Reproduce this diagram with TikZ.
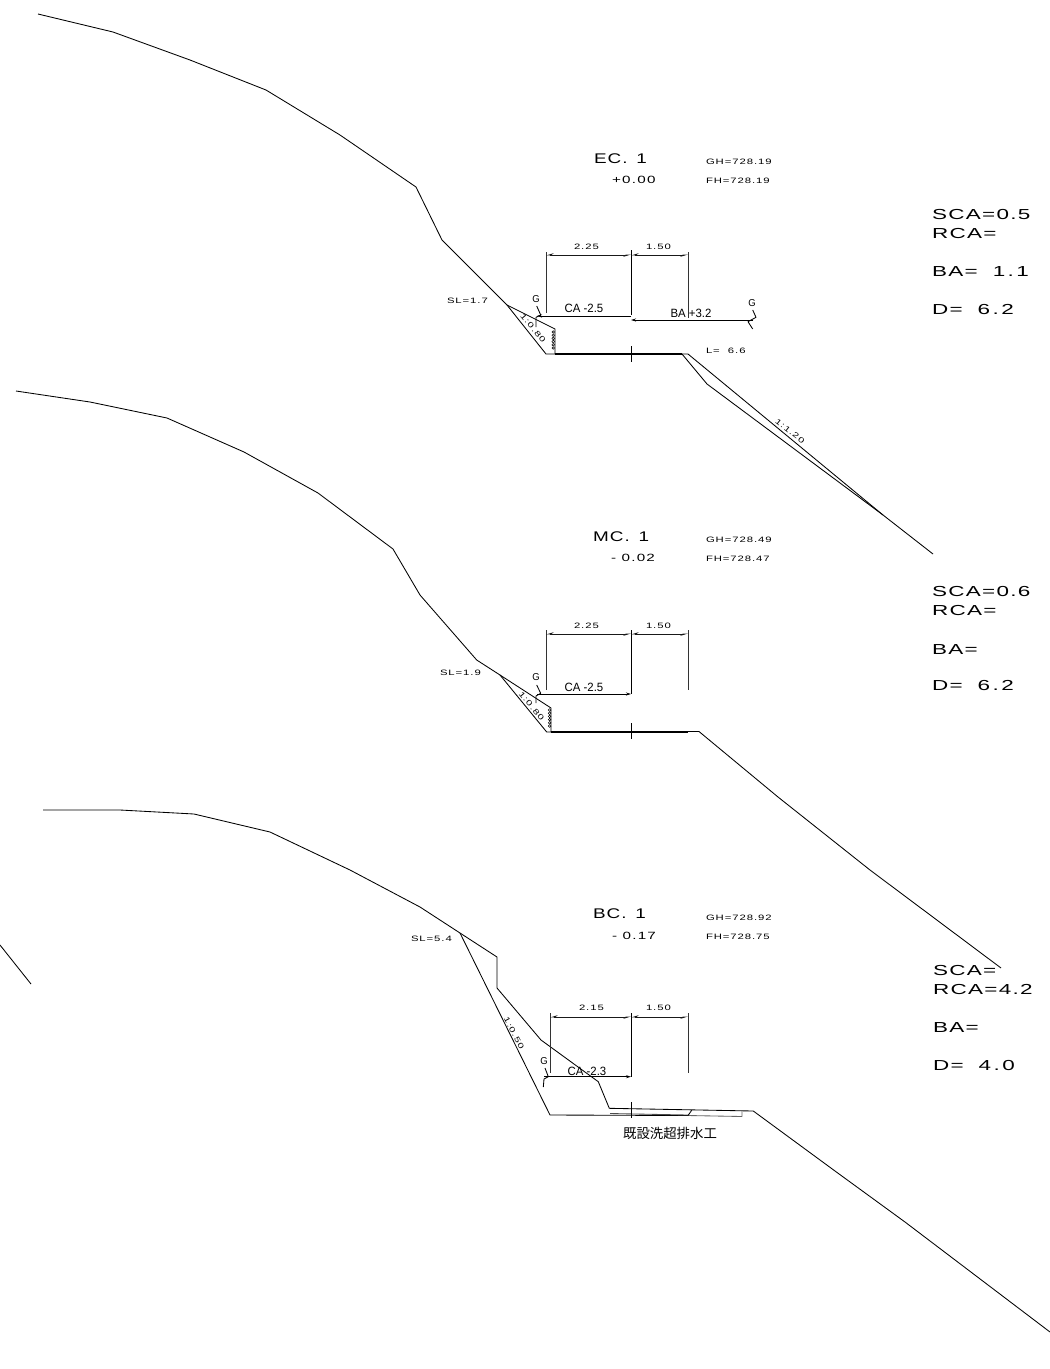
\documentclass[tikz,border=0pt]{standalone}
\usepackage{fontspec}
\setmainfont{Liberation Sans}
\newfontfamily\widefont[FakeStretch=1.35,LetterSpace=8]{Liberation Sans}
\newfontfamily\sidefont[FakeStretch=1.55,LetterSpace=9]{Liberation Sans}
\newfontfamily\tagfont[FakeStretch=1.45,LetterSpace=12]{Liberation Sans}
\newfontfamily\narrowfont[FakeStretch=0.95]{Liberation Sans}
\newfontfamily\cjkfont{Noto Sans CJK JP}
\usetikzlibrary{arrows.meta}
\tikzset{
 x=1pt,y=-1pt,
 line/.style={line width=0.85pt,black,line join=bevel},
 heavy/.style={line width=1.2pt,black},
 witness/.style={line width=0.75pt,black!80},
 stationline/.style={line width=0.95pt,black},
 dimline/.style={line width=0.9pt,black!90,{Stealth[harpoon,swap,length=6pt,width=3.5pt]}-{Stealth[harpoon,swap,length=6pt,width=3.5pt]}},
 grade/.style={line width=1pt,black,-{Stealth[length=5pt,width=3pt]}},
 txt/.style={anchor=base west,inner sep=0pt,outer sep=0pt,black},
 title/.style={txt,font=\widefont\fontsize{14}{14}\selectfont},
 side/.style={txt,font=\sidefont\fontsize{14.5}{14}\selectfont},
 chain/.style={txt,font=\tagfont\fontsize{10.5}{10}\selectfont},
 tag/.style={txt,font=\tagfont\fontsize{7.8}{8}\selectfont},
 slopetag/.style={inner sep=0pt,black,font=\tagfont\fontsize{7.5}{8}\selectfont},
 gtag/.style={inner sep=0pt,black,font=\narrowfont\fontsize{10}{10}\selectfont},
 gradetag/.style={inner sep=0pt,black,font=\narrowfont\fontsize{12}{12}\selectfont},
 drain/.style={line width=0.5pt,black},
}
\begin{document}
\begin{tikzpicture}
\useasboundingbox (0,0) rectangle (1050,1369);
% ---------- section EC
\draw[line] (38,14) -- (113,32) -- (190,60) -- (266,90) -- (340,135) -- (416,187) -- (442,240) -- (507,305) -- (555,329) -- (555,354);
\draw[line] (507,305) -- (546,354) -- (555,354);
\draw[heavy] (555,354) -- (682,354);
\draw[line] (682,354) -- (688,354) -- (883,515) -- (933,554);
\draw[line] (682,354) -- (707,384) -- (883,515);
\foreach \yy in {332,335.2,338.4,341.6,344.8,348} \draw[drain] (553.2,\yy) circle (1.3);
\draw[witness] (546,252) -- (546,313);
\draw[stationline] (631,250) -- (631,315);
\draw[witness] (688,252) -- (688,318);
\draw[dimline] (546,255) -- (631,255);
\draw[dimline] (631,255) -- (688,255);
\draw[grade] (631,316) -- (537,316);
\draw[grade] (753,320) -- (631,320);
\draw[line] (536.7,306) -- (540.7,315) -- (536,317.3) -- (536,327);
\draw[line] (752.7,310) -- (756,317.3) -- (748,321.7) -- (752.7,329);
\draw[line] (631,346) -- (631,362);
\node[title] (ecA) at (594,163) {EC. \,1};
\node[chain] (ecB) at (612,183) {+0.00};
\node[tag] (ecC) at (706,164) {GH=728.19};
\node[tag] (ecD) at (706,183) {FH=728.19};
\node[side] (ecE) at (932,219) {SCA=0.5};
\node[side] (ecF) at (932,238) {RCA=};
\node[side] (ecG) at (932,276) {BA= \ 1\,.\,1};
\node[side] (ecH) at (932,314) {D= \ 6\,.\,2};
\node[tag] (ecI) at (447,303) {SL=1.7};
\node[tag] (ecJ) at (574,249) {2.25};
\node[tag] (ecK) at (646,249) {1.50};
\node[tag] (ecL) at (706,353) {L= \ 6.6};
\node[slopetag,rotate=-38] (ecM) at (790,431) {1:1.20};
\node[slopetag,rotate=-50] (ecN) at (533,328) {1:0.80};
\node[gradetag] (ecO) at (584,308.5) {CA -2.5};
\node[gradetag] (ecP) at (691,313) {BA +3.2};
\node[gtag] (ecQ) at (536,299) {G};
\node[gtag] (ecR) at (752,303) {G};
% ---------- section MC
\draw[line] (16,391) -- (90,402) -- (167,418) -- (244,452) -- (318,493) -- (393,549) -- (420,595) -- (476.7,660) -- (500,675) -- (551,708) -- (551,732);
\draw[line] (500,675) -- (546.7,732) -- (551,732);
\draw[heavy] (551,732) -- (688,732);
\draw[line] (688,731.5) -- (699,731.5) -- (778,797) -- (870,870) -- (1001,968);
\foreach \yy in {710,713.2,716.4,719.6,722.8,726} \draw[drain] (549.6,\yy) circle (1.3);
\draw[witness] (546,630) -- (546,690);
\draw[stationline] (631,630) -- (631,694);
\draw[witness] (688,630) -- (688,690);
\draw[dimline] (546,634) -- (631,634);
\draw[dimline] (631,634) -- (688,634);
\draw[grade] (537,694) -- (631,694);
\draw[line] (536.7,685) -- (540.7,693.3) -- (536,696) -- (536,703);
\draw[line] (631,723) -- (631,739);
\node[title] (mcA) at (593,541) {MC. \,1};
\node[chain] (mcB) at (611,561) {- 0.02};
\node[tag] (mcC) at (706,542) {GH=728.49};
\node[tag] (mcD) at (706,561) {FH=728.47};
\node[side] (mcE) at (932,596) {SCA=0.6};
\node[side] (mcF) at (932,615) {RCA=};
\node[side] (mcG) at (932,654) {BA=};
\node[side] (mcH) at (932,690) {D= \ 6\,.\,2};
\node[tag] (mcI) at (440,675) {SL=1.9};
\node[tag] (mcJ) at (574,628) {2.25};
\node[tag] (mcK) at (646,628) {1.50};
\node[slopetag,rotate=-50] (mcN) at (531.5,706) {1:0.80};
\node[gradetag] (mcO) at (584,687) {CA -2.5};
\node[gtag] (mcQ) at (536,677) {G};
% ---------- section BC
\draw[line] (43,810) -- (120,810) -- (194,814) -- (270,832) -- (350,870) -- (420,907) -- (460,933) -- (497,957) -- (497,988) -- (541,1040) -- (598.3,1081.7) -- (609.3,1108.3) -- (753.3,1111) -- (835,1171) -- (905,1222) -- (1050,1332);
\draw[line] (460,933) -- (550,1115) -- (688,1115.5);
\draw[line,black!60] (688,1115.5) -- (742,1116.5) -- (742,1111);
\draw[line,black!70] (610,1113.5) -- (688,1115);
\draw[line] (688,1115.5) -- (691.7,1110.3);
\draw[witness] (550,1013) -- (550,1073);
\draw[stationline] (631,1013) -- (631,1077);
\draw[witness] (688,1013) -- (688,1073);
\draw[dimline] (550,1017) -- (631,1017);
\draw[dimline] (631,1017) -- (688,1017);
\draw[grade] (544,1076.7) -- (631,1076.7);
\draw[line] (545,1068) -- (548.3,1076.7) -- (544,1079) -- (543.3,1087);
\draw[line] (631,1102) -- (631,1118);
\node[title] (bcA) at (593,918) {BC. \,1};
\node[chain] (bcB) at (612,939) {- 0.17};
\node[tag] (bcC) at (706,920) {GH=728.92};
\node[tag] (bcD) at (706,939) {FH=728.75};
\node[side] (bcE) at (933,975) {SCA=};
\node[side] (bcF) at (933,994) {RCA=4.2};
\node[side] (bcG) at (933,1032) {BA=};
\node[side] (bcH) at (933,1070) {D= \ 4\,.\,0};
\node[tag] (bcI) at (411,941) {SL=5.4};
\node[tag] (bcJ) at (579,1010) {2.15};
\node[tag] (bcK) at (646,1010) {1.50};
\node[slopetag,rotate=-62] (bcN) at (514,1033) {1:0.50};
\node[gradetag] (bcO) at (587,1071) {CA -2.3};
\node[gtag] (bcQ) at (544,1061) {G};
\node[inner sep=0pt,black,font=\cjkfont\fontsize{13.4}{14}\selectfont] (bcT) at (670,1133) {既設洗超排水工};
% ---------- neighbouring fragment
\draw[line] (0,945) -- (31,984);
\end{tikzpicture}
\end{document}
